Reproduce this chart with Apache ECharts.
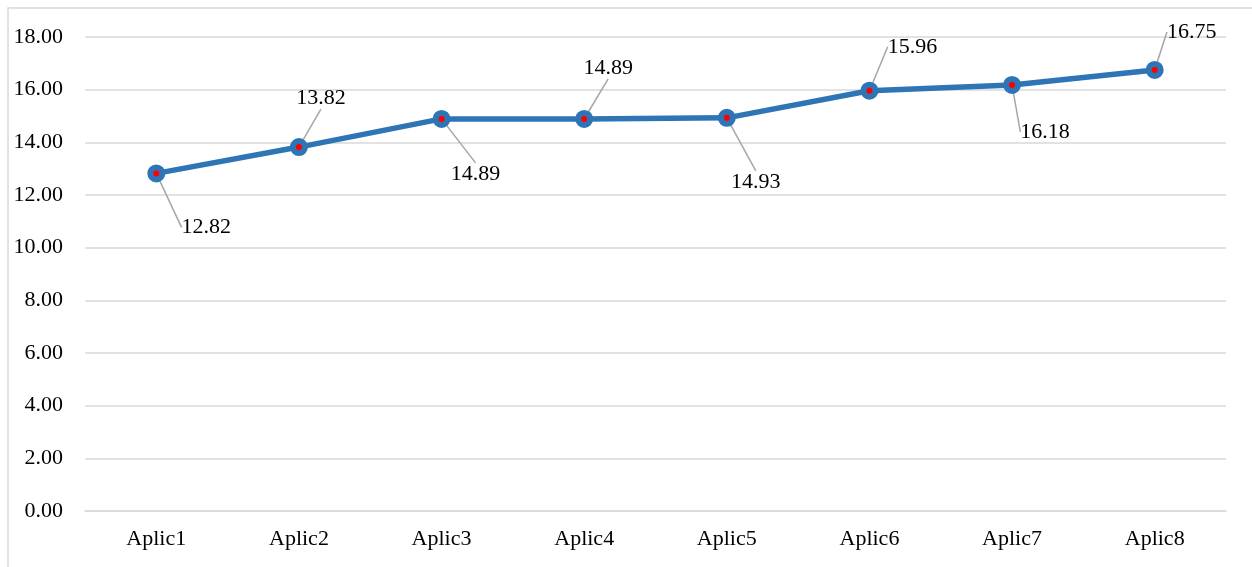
<!DOCTYPE html>
<html>
<head>
    <meta charset="utf-8">
    <title>Aplic</title>
    <script src="https://cdn.jsdelivr.net/npm/echarts@6.0.0/dist/echarts.min.js"></script>
    <style>
        html, body { margin: 0; padding: 0; background: #fff; }
        #main { width: 1252px; height: 567px; }
    </style>
</head>
<body>
<div id="main"></div>
<script type="text/javascript">
    // categorias y valores
    var categories = ['Aplic1', 'Aplic2', 'Aplic3', 'Aplic4', 'Aplic5', 'Aplic6', 'Aplic7', 'Aplic8'];
    var values = [12.82, 13.82, 14.89, 14.89, 14.93, 15.96, 16.18, 16.75];

    // desplazamiento de cada etiqueta respecto a su punto
    var labelOffsets = [[50, 54], [22, -49], [34, 55], [24, -51], [29, 64], [43, -44], [33, 47], [37, -38]];

    var font = '"Liberation Serif", "Times New Roman", serif';
    var myChart = echarts.init(document.getElementById('main'));

    var option = {
        backgroundColor: '#fff',
        animation: false,
        graphic: [{
            type: 'rect',
            shape: {x: 8, y: 8, width: 1300, height: 700},
            style: {fill: 'none', stroke: '#D9D9D9', lineWidth: 1.5},
            silent: true
        }],
        grid: {left: 85, right: 26, top: 37, bottom: 56},
        xAxis: {
            type: 'category',
            data: categories,
            boundaryGap: true,
            axisLine: {show: true, lineStyle: {color: '#D9D9D9', width: 1.5}},
            axisTick: {show: false},
            axisLabel: {color: '#000', fontFamily: font, fontSize: 22, margin: 17}
        },
        yAxis: {
            type: 'value',
            min: 0,
            max: 18,
            interval: 2,
            axisLine: {show: false},
            axisTick: {show: false},
            splitLine: {lineStyle: {color: '#D9D9D9', width: 1.5}},
            axisLabel: {
                color: '#000', fontFamily: font, fontSize: 22, margin: 22,
                formatter: function (v) { return v.toFixed(2); }
            }
        },
        series: [{
            type: 'line',
            data: values,
            lineStyle: {color: '#2E75B6', width: 5.5},
            symbol: 'circle',
            symbolSize: 12,
            itemStyle: {color: '#FF0000', borderColor: '#2E75B6', borderWidth: 6},
            label: {
                show: true,
                color: '#000',
                fontFamily: font,
                fontSize: 22,
                position: 'inside',
                formatter: function (p) { return p.value.toFixed(2); }
            },
            labelLine: {show: true, lineStyle: {color: '#A6A6A6', width: 1.5}},
            labelLayout: function (p) {
                var o = labelOffsets[p.dataIndex];
                return {dx: o[0], dy: o[1]};
            },
            z: 3
        }]
    };

    myChart.setOption(option);
</script>
</body>
</html>
